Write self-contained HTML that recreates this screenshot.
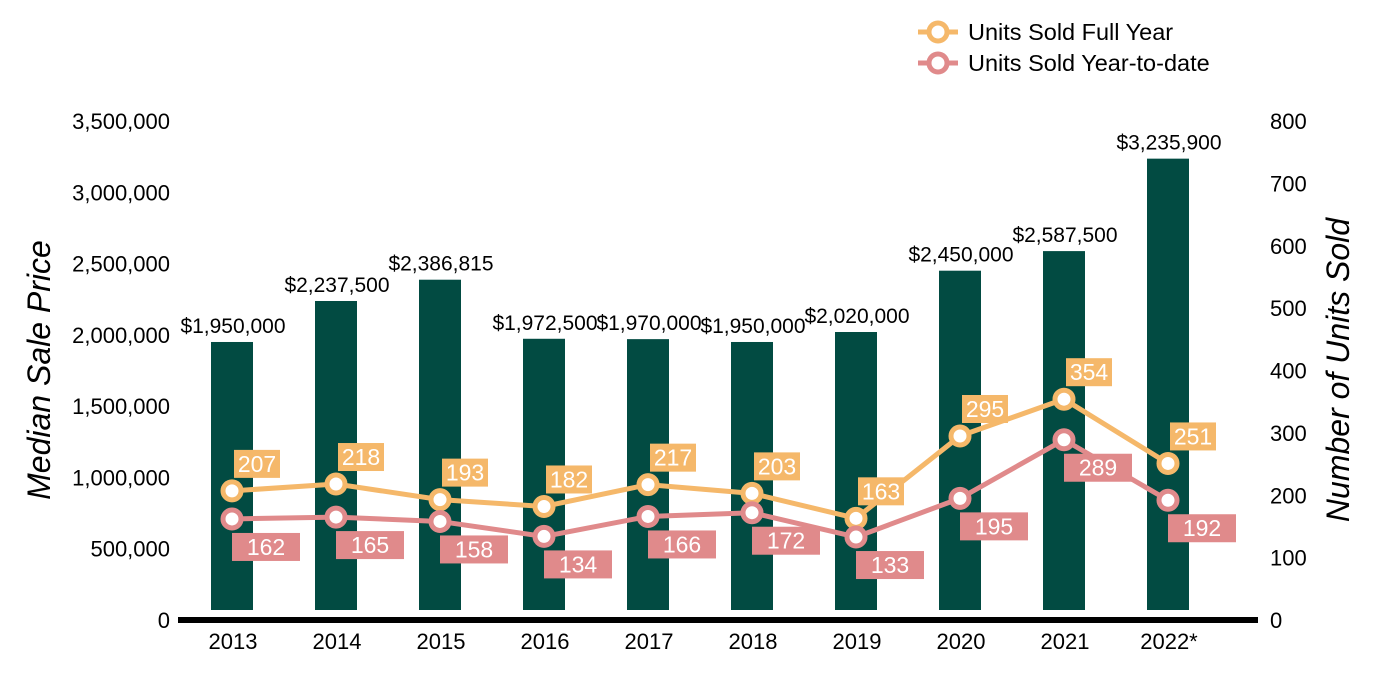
<!DOCTYPE html>
<html><head><meta charset="utf-8"><style>
html,body{margin:0;padding:0;background:#fff;}
svg{display:block;font-family:"Liberation Sans",Arial,sans-serif;}
</style></head><body>
<svg id="chart" width="1400" height="700">
</svg>
<script>
const categories=["2013","2014","2015","2016","2017","2018","2019","2020","2021","2022*"];
const prices=[1950000,2237500,2386815,1972500,1970000,1950000,2020000,2450000,2587500,3235900];
const priceLabels=["$1,950,000","$2,237,500","$2,386,815","$1,972,500","$1,970,000","$1,950,000","$2,020,000","$2,450,000","$2,587,500","$3,235,900"];
const fullYear=[207,218,193,182,217,203,163,295,354,251];
const ytd=[162,165,158,134,166,172,133,195,289,192];
const leftTicks=[0,500000,1000000,1500000,2000000,2500000,3000000,3500000];
const rightTicks=[0,100,200,300,400,500,600,700,800];

const NS="http://www.w3.org/2000/svg";
const svg=document.getElementById('chart');
function el(t,a,p){const e=document.createElementNS(NS,t);for(const k in a)e.setAttribute(k,a[k]);(p||svg).appendChild(e);return e;}
const y0=620,yTop=121;
const yL=v=>y0-(v/3500000)*(y0-yTop);
const yR=v=>y0-(v/800)*(y0-yTop);
const xC=i=>232+i*104;
const fmt=v=>v.toLocaleString('en-US');

leftTicks.forEach(v=>{const t=el('text',{x:170,y:yL(v)+8,'text-anchor':'end','font-size':22,fill:'#000'});t.textContent=fmt(v);

});
rightTicks.forEach(v=>{const t=el('text',{x:1270,y:yR(v)+8,'font-size':22,fill:'#000'});t.textContent=v;

});
let t=el('text',{transform:'translate(50,370) rotate(-90)','text-anchor':'middle','font-size':32,'font-style':'italic',fill:'#000'});t.textContent='Median Sale Price';

t=el('text',{transform:'translate(1349,370) rotate(-90)','text-anchor':'middle','font-size':32,'font-style':'italic',fill:'#000'});t.textContent='Number of Units Sold';


prices.forEach((v,i)=>{const b=el('rect',{x:xC(i)-21,y:yL(v),width:42,height:610-yL(v),fill:'#024b42'});


const l=el('text',{x:xC(i)+1,y:yL(v)-9,'text-anchor':'middle','font-size':21,fill:'#000'});l.textContent=priceLabels[i];

});

const ax=el('line',{x1:178,x2:1258,y1:620,y2:620,stroke:'#000','stroke-width':6});

categories.forEach((c,i)=>{const l=el('text',{x:xC(i)+1,y:649,'text-anchor':'middle','font-size':22,fill:'#000'});l.textContent=c;
});

function series(vals,color,name,labelDy,labelW,above){
  const pts=vals.map((v,i)=>xC(i)+','+yR(v)).join(' ');
  const p=el('polyline',{points:pts,fill:'none',stroke:color,'stroke-width':5});
  
  vals.forEach((v,i)=>{const c=el('circle',{cx:xC(i),cy:yR(v),r:9,fill:'#fff',stroke:color,'stroke-width':5});
    });
  vals.forEach((v,i)=>{const x=xC(i)+(above?2:0),y=yR(v)+labelDy;
    const r=el('rect',{x:x,y:y,width:labelW,height:28,fill:color});
    
    const l=el('text',{x:x+labelW/2,y:y+22,'text-anchor':'middle','font-size':23,fill:'#fff'});l.textContent=v;
    });
}
series(fullYear,'#f5b86a','units-full-year',-41,46,true);
series(ytd,'#e08a8b','units-ytd',14,68,false);

[['Units Sold Full Year','#f5b86a',32],['Units Sold Year-to-date','#e08a8b',63]].forEach(([n,c,y])=>{
  const g=el('g',{});
  el('line',{x1:918,x2:958,y1:y,y2:y,stroke:c,'stroke-width':5},g);
  el('circle',{cx:938,cy:y,r:9,fill:'#fff',stroke:c,'stroke-width':5},g);
  const l=el('text',{x:968,y:y+8,'font-size':23.5,fill:'#000'},g);l.textContent=n;});
</script>
</body></html>
